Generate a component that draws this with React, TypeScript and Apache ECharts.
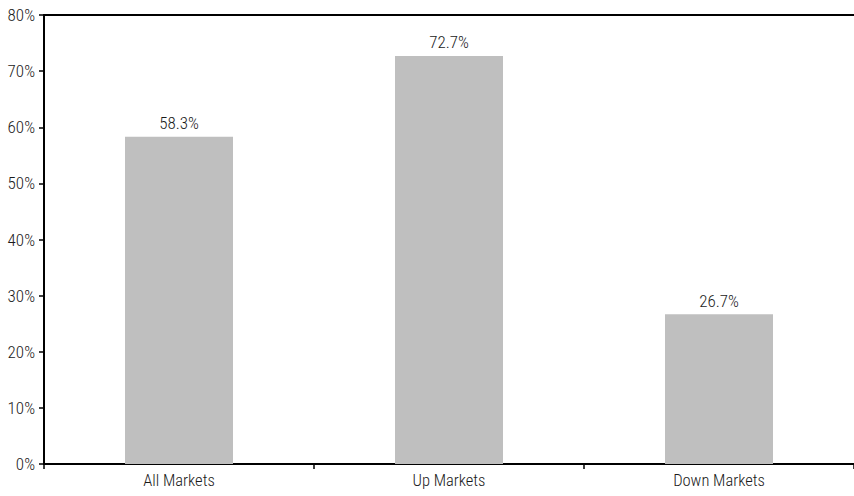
import React, { useEffect, useRef } from "react";
import * as echarts from "echarts";

const categories = ["All Markets", "Up Markets", "Down Markets"];
const values = [58.3, 72.7, 26.7];

const FONT = "'Roboto Condensed', 'Roboto', sans-serif";
const WEIGHT = 300;

export default function App() {
  const ref = useRef<HTMLDivElement>(null);
  useEffect(() => {
    const chart = echarts.init(ref.current!, null, { renderer: "svg" });
    chart.setOption({
      animation: false,
      grid: { left: 44, right: 0, top: 15, bottom: 32 },
      xAxis: [
        {
          type: "category",
          data: categories,
          position: "bottom",
          axisLine: { lineStyle: { color: "#000", width: 2 } },
          axisTick: { show: true, length: 5, lineStyle: { color: "#000", width: 1.5 } },
          axisLabel: { color: "#1a1a1a", fontSize: 16.5, fontWeight: WEIGHT, fontFamily: FONT, margin: 8 },
        },
        {
          type: "category",
          data: categories,
          position: "top",
          axisLine: { lineStyle: { color: "#000", width: 2 } },
          axisTick: { show: false },
          axisLabel: { show: false },
        },
      ],
      yAxis: {
        type: "value",
        min: 0,
        max: 80,
        interval: 10,
        axisLine: { show: true, lineStyle: { color: "#000", width: 2 } },
        axisTick: { show: true, length: 5, lineStyle: { color: "#000", width: 1.5 } },
        splitLine: { show: false },
        axisLabel: {
          color: "#1a1a1a",
          fontSize: 17,
          fontWeight: WEIGHT,
          fontFamily: FONT,
          margin: 9,
          formatter: (v: number) => v + "%",
        },
      },
      series: [
        {
          type: "bar",
          data: values,
          barWidth: "40%",
          itemStyle: { color: "#bfbfbf" },
          label: {
            show: true,
            position: "top",
            distance: 5,
            color: "#1a1a1a",
            fontSize: 17,
            fontWeight: WEIGHT,
            fontFamily: FONT,
            formatter: (p: any) => p.value.toFixed(1) + "%",
          },
        },
      ],
    });
    return () => chart.dispose();
  }, []);
  return <div ref={ref} style={{ width: 854, height: 496, position: "absolute", left: 0, top: 0, background: "#fff" }} />;
}
